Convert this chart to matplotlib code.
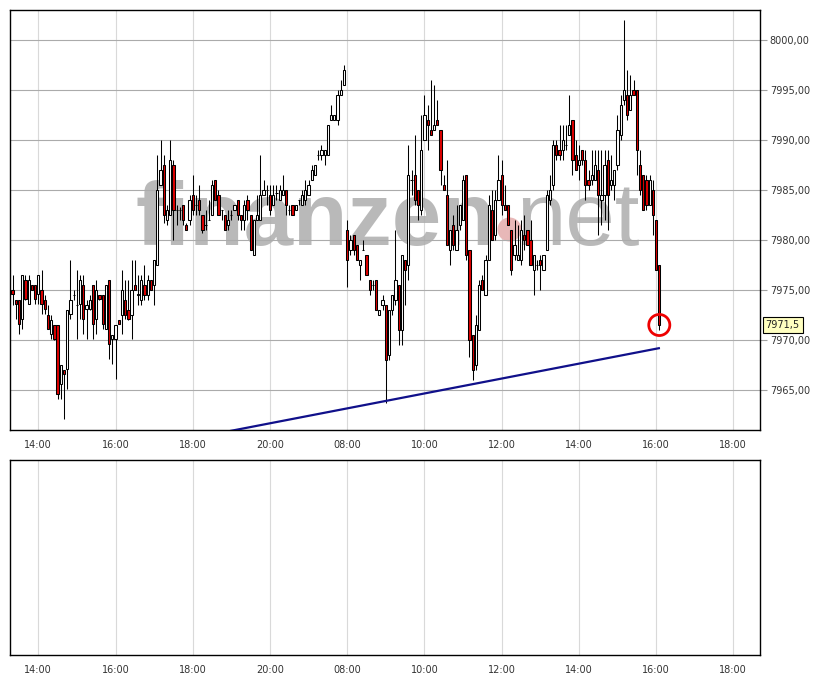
import numpy as np
import pandas as pd
import matplotlib
matplotlib.use("Agg")
import matplotlib.pyplot as plt
import matplotlib.transforms as mtransforms

# 5-minute bars; the night between the two sessions is collapsed (22:00 -> 08:00)
day1_start, day1_bars = "13:20", 104
day2_start, day2_bars = "08:00", 98

opens = [
    7975.0, 7974.0, 7974.0, 7972.1, 7976.0, 7973.6, 7975.5, 7975.5, 7974.6, 7975.0,
    7974.0, 7972.5, 7970.6, 7971.5, 7971.5, 7965.6, 7967.0, 7967.1, 7972.6, 7974.5,
    7973.5, 7973.6, 7975.5, 7973.1, 7973.1, 7975.5, 7972.1, 7974.5, 7974.5, 7971.1,
    7976.0, 7970.1, 7970.1, 7972.0, 7972.5, 7974.0, 7973.0, 7972.5, 7975.5, 7974.5,
    7974.0, 7975.5, 7974.5, 7976.0, 7975.5, 7977.5, 7985.5, 7987.5, 7982.0, 7982.5,
    7987.5, 7983.0, 7983.0, 7983.5, 7981.5, 7982.0, 7984.5, 7983.5, 7984.0, 7982.5,
    7981.5, 7982.0, 7982.5, 7986.0, 7984.5, 7983.0, 7982.5, 7981.5, 7982.5, 7983.0,
    7984.0, 7982.5, 7982.0, 7984.0, 7982.5, 7978.5, 7982.0, 7982.0, 7984.5, 7985.0,
    7984.5, 7983.5, 7984.7, 7984.0, 7984.5, 7985.0, 7983.0, 7983.5, 7983.0, 7984.0,
    7983.5, 7984.0, 7984.5, 7986.0, 7986.5, 7988.5, 7988.5, 7988.5, 7988.5, 7992.0,
    7992.0, 7992.0, 7994.5, 7995.5,
    7981.0, 7979.0, 7980.5, 7979.5, 7977.5, 7979.0, 7978.5, 7976.0, 7975.5, 7976.0,
    7972.5, 7973.5, 7973.5, 7968.5, 7973.0, 7974.0, 7975.5, 7971.0, 7978.0, 7977.5,
    7986.0, 7986.5, 7985.0, 7983.0, 7990.0, 7992.0, 7991.0, 7991.0, 7992.0, 7991.0,
    7985.5, 7984.5, 7979.0, 7981.5, 7979.0, 7981.5, 7982.0, 7986.5, 7979.0, 7970.5,
    7967.5, 7971.0, 7976.0, 7974.5, 7978.0, 7983.0, 7980.5, 7984.0, 7986.5, 7983.5,
    7983.5, 7981.0, 7978.5, 7978.0, 7978.0, 7980.5, 7981.0, 7980.0, 7977.0, 7977.5,
    7978.0, 7977.0, 7979.0, 7984.0, 7985.5, 7989.5, 7989.0, 7989.0, 7989.5, 7990.5,
    7992.0, 7988.5, 7987.5, 7989.0, 7988.0, 7986.0, 7986.0, 7986.0, 7987.0, 7984.0,
    7984.5, 7988.0, 7985.5, 7985.5, 7987.5, 7990.5, 7994.0, 7994.5, 7993.0, 7995.0,
    7995.0, 7987.5, 7986.5, 7986.0, 7983.5, 7985.0, 7982.0, 7977.5,
]
highs = [
    7976.5, 7974.0, 7974.0, 7976.5, 7976.5, 7976.5, 7975.5, 7975.5, 7976.5, 7977.0,
    7974.5, 7973.5, 7972.5, 7971.5, 7971.5, 7967.5, 7967.0, 7973.0, 7978.0, 7975.0,
    7977.0, 7976.5, 7976.5, 7974.0, 7974.5, 7975.5, 7976.0, 7974.5, 7974.5, 7975.5,
    7976.0, 7970.5, 7971.5, 7972.0, 7977.0, 7976.0, 7976.0, 7978.0, 7978.0, 7976.5,
    7976.5, 7977.5, 7976.5, 7976.0, 7978.0, 7988.5, 7990.0, 7988.5, 7983.5, 7990.0,
    7988.0, 7983.5, 7983.3, 7983.5, 7981.7, 7984.5, 7986.5, 7984.5, 7985.5, 7982.5,
    7983.0, 7984.0, 7986.0, 7986.0, 7985.0, 7983.0, 7982.5, 7983.0, 7983.0, 7983.5,
    7984.0, 7982.5, 7984.0, 7984.5, 7982.5, 7982.0, 7984.5, 7988.5, 7986.0, 7985.5,
    7985.5, 7985.5, 7985.5, 7985.5, 7986.5, 7985.0, 7983.5, 7983.5, 7983.5, 7984.0,
    7985.0, 7986.0, 7986.0, 7987.5, 7987.5, 7989.0, 7989.5, 7989.0, 7991.5, 7993.5,
    7992.5, 7995.0, 7996.0, 7997.5,
    7982.0, 7980.5, 7980.5, 7979.5, 7978.0, 7980.0, 7978.5, 7976.0, 7976.0, 7976.0,
    7973.0, 7974.5, 7973.5, 7973.0, 7974.5, 7981.0, 7975.5, 7978.5, 7978.0, 7989.5,
    7987.0, 7990.5, 7985.0, 7992.5, 7994.5, 7993.5, 7996.0, 7995.5, 7994.0, 7991.0,
    7986.5, 7988.0, 7981.0, 7982.5, 7983.5, 7983.5, 7986.5, 7986.5, 7979.0, 7970.5,
    7972.5, 7976.0, 7976.5, 7978.5, 7984.5, 7985.0, 7985.0, 7988.5, 7988.0, 7985.5,
    7983.5, 7981.0, 7982.0, 7981.5, 7982.0, 7982.5, 7981.0, 7982.0, 7978.5, 7978.0,
    7978.5, 7978.5, 7985.0, 7986.5, 7990.0, 7990.0, 7991.5, 7991.5, 7991.5, 7994.5,
    7992.0, 7990.0, 7989.5, 7989.0, 7989.0, 7987.0, 7989.0, 7989.0, 7989.0, 7989.0,
    7989.0, 7989.0, 7988.5, 7987.0, 7992.5, 7994.5, 8002.0, 7997.0, 7996.5, 7996.0,
    7995.0, 7989.0, 7986.5, 7986.5, 7986.5, 7986.0, 7982.0, 7977.5,
]
lows = [
    7973.5, 7972.1, 7970.6, 7971.1, 7974.0, 7973.6, 7975.0, 7973.6, 7973.6, 7972.6,
    7972.6, 7971.1, 7970.1, 7970.0, 7964.1, 7964.1, 7962.1, 7965.1, 7972.1, 7974.0,
    7970.1, 7972.1, 7970.6, 7970.1, 7973.0, 7970.1, 7970.6, 7974.0, 7971.1, 7971.1,
    7968.1, 7967.6, 7966.1, 7971.6, 7970.6, 7972.1, 7972.0, 7970.1, 7975.0, 7973.5,
    7973.5, 7974.0, 7974.0, 7975.0, 7973.5, 7977.5, 7985.5, 7981.7, 7981.5, 7982.5,
    7980.0, 7981.5, 7982.0, 7981.5, 7981.0, 7981.5, 7982.5, 7982.5, 7982.5, 7980.7,
    7981.0, 7982.0, 7982.5, 7984.0, 7982.5, 7982.0, 7981.0, 7981.0, 7982.0, 7983.0,
    7982.0, 7981.0, 7981.0, 7982.0, 7979.0, 7978.5, 7982.0, 7982.0, 7984.5, 7983.5,
    7982.5, 7983.5, 7984.0, 7984.0, 7984.5, 7982.5, 7982.5, 7982.5, 7983.0, 7983.5,
    7983.5, 7983.5, 7984.5, 7986.0, 7986.5, 7988.0, 7988.0, 7987.5, 7988.5, 7992.0,
    7992.0, 7991.5, 7994.5, 7995.5,
    7975.3, 7978.5, 7978.5, 7978.0, 7976.0, 7979.0, 7976.5, 7974.5, 7975.0, 7973.0,
    7972.5, 7973.0, 7963.7, 7968.0, 7972.5, 7973.5, 7969.5, 7969.5, 7973.5, 7976.0,
    7984.5, 7983.5, 7982.0, 7982.5, 7990.0, 7989.0, 7990.5, 7991.0, 7991.5, 7985.5,
    7985.0, 7979.5, 7977.5, 7979.0, 7979.0, 7981.0, 7982.0, 7978.0, 7968.3, 7966.0,
    7967.0, 7971.0, 7975.0, 7974.5, 7978.0, 7980.0, 7980.0, 7984.0, 7982.5, 7983.0,
    7981.5, 7976.5, 7978.0, 7978.0, 7977.5, 7979.0, 7979.5, 7977.5, 7974.5, 7977.0,
    7975.0, 7977.0, 7979.0, 7983.5, 7985.0, 7988.0, 7988.0, 7988.0, 7989.0, 7990.5,
    7986.5, 7987.0, 7986.0, 7987.5, 7984.0, 7985.0, 7985.5, 7986.0, 7980.5, 7981.5,
    7982.0, 7981.0, 7985.0, 7984.0, 7987.0, 7990.0, 7993.5, 7992.0, 7993.0, 7994.5,
    7986.5, 7984.5, 7983.0, 7983.0, 7983.5, 7980.5, 7977.0, 7971.0,
]
closes = [
    7974.6, 7973.6, 7971.6, 7976.5, 7974.1, 7976.0, 7975.0, 7974.1, 7976.5, 7973.6,
    7973.1, 7971.1, 7972.0, 7970.1, 7964.6, 7967.5, 7966.6, 7973.0, 7974.0, 7974.5,
    7973.5, 7976.0, 7972.1, 7973.5, 7974.0, 7971.6, 7975.0, 7974.1, 7971.6, 7975.5,
    7969.6, 7970.5, 7971.5, 7971.6, 7975.0, 7972.5, 7972.1, 7975.0, 7975.0, 7974.6,
    7976.0, 7974.5, 7976.0, 7975.0, 7978.0, 7985.0, 7987.0, 7982.5, 7983.0, 7988.0,
    7983.0, 7983.0, 7983.0, 7982.0, 7981.0, 7984.0, 7983.0, 7983.5, 7983.0, 7981.0,
    7981.5, 7982.0, 7985.5, 7984.0, 7982.5, 7983.0, 7981.0, 7982.0, 7982.5, 7983.5,
    7982.5, 7982.0, 7983.5, 7983.0, 7979.0, 7982.0, 7982.5, 7984.5, 7985.0, 7985.0,
    7983.0, 7984.5, 7984.7, 7985.0, 7985.0, 7983.5, 7983.0, 7982.5, 7983.5, 7984.0,
    7984.5, 7985.0, 7985.5, 7987.0, 7987.5, 7988.5, 7989.0, 7989.0, 7991.5, 7992.5,
    7992.5, 7994.5, 7995.0, 7997.0,
    7978.0, 7980.0, 7979.0, 7978.0, 7978.0, 7979.0, 7976.5, 7975.0, 7975.5, 7973.0,
    7973.0, 7974.0, 7968.0, 7973.0, 7974.5, 7976.0, 7971.0, 7978.5, 7977.0, 7986.5,
    7986.0, 7984.0, 7983.5, 7989.0, 7992.5, 7991.5, 7990.5, 7991.5, 7991.5, 7987.0,
    7985.0, 7979.5, 7981.0, 7979.5, 7981.0, 7983.5, 7986.0, 7978.5, 7970.0, 7967.0,
    7971.5, 7975.5, 7975.0, 7978.0, 7983.5, 7980.0, 7984.0, 7986.0, 7983.5, 7983.0,
    7981.5, 7977.0, 7979.5, 7978.5, 7981.0, 7980.0, 7979.5, 7977.5, 7978.5, 7977.5,
    7977.5, 7978.5, 7984.5, 7985.0, 7989.5, 7988.5, 7988.5, 7990.0, 7989.5, 7991.5,
    7988.0, 7987.0, 7988.0, 7988.0, 7985.5, 7985.5, 7986.5, 7987.5, 7984.5, 7984.5,
    7987.5, 7984.5, 7986.0, 7987.0, 7991.0, 7993.5, 7995.0, 7992.5, 7994.5, 7994.5,
    7989.0, 7985.0, 7983.0, 7983.5, 7986.0, 7982.5, 7977.0, 7971.5,
]

tick_labels = ["14:00", "16:00", "18:00", "20:00", "08:00",
               "10:00", "12:00", "14:00", "16:00", "18:00"]
tick_days = [1, 1, 1, 1, 2, 2, 2, 2, 2, 2]
price_ticks = [7965, 7970, 7975, 7980, 7985, 7990, 7995, 8000]
last_price = 7971.5
trend_days = [1, 2]
trend_times = ["18:58", "16:06"]
trend_prices = [7960.9, 7969.2]


def session_pos(day, hhmm):
    # minutes from 14:00 on day 1, with the overnight gap removed
    h, m = map(int, hhmm.split(":"))
    mins = h * 60 + m
    if day == 1:
        return mins - 14 * 60
    return 8 * 60 + 480 + mins - 16 * 60


t1 = pd.date_range("2000-01-01 " + day1_start, periods=day1_bars, freq="5min")
t2 = pd.date_range("2000-01-02 " + day2_start, periods=day2_bars, freq="5min")
xs = np.array([session_pos(1, t.strftime("%H:%M")) for t in t1] +
              [session_pos(2, t.strftime("%H:%M")) for t in t2], dtype=float)
o = np.array(opens)
h = np.array(highs)
l = np.array(lows)
c = np.array(closes)

fig = plt.figure(figsize=(8.2, 6.75), dpi=100)
ax = fig.add_axes([10 / 820, 1 - 430 / 675, 750 / 820, 420 / 675])
ax2 = fig.add_axes([10 / 820, 1 - 655 / 675, 750 / 820, 195 / 675])

xmin, xmax = -44, 1121.5
tick_pos = [session_pos(d, t) for d, t in zip(tick_days, tick_labels)]

for a in (ax, ax2):
    a.set_xlim(xmin, xmax)
    a.set_xticks(tick_pos)
    a.set_xticklabels(tick_labels)
    a.tick_params(axis="x", length=0, pad=7, labelsize=7, labelcolor="#333333")
    for x in tick_pos:
        a.axvline(x, color="#d9d9d9", lw=0.8, zorder=0)
    for s in a.spines.values():
        s.set_color("black")
        s.set_linewidth(1.0)

ax2.set_yticks([])
ax2.set_ylim(0, 1)

ax.set_ylim(7961, 8003)
ax.yaxis.tick_right()
ax.set_yticks(price_ticks)
ax.set_yticklabels([f"{v:.2f}".replace(".", ",") for v in price_ticks])
ax.tick_params(axis="y", length=5, width=0.8, color="#a0a0a0", pad=2,
               labelsize=7, labelcolor="#333333")
for v in price_ticks:
    ax.axhline(v, color="#ababab", lw=0.8, zorder=0.5)

# watermark
ax.text(0.1667, 0.4405, "finanzen", transform=ax.transAxes, family="Liberation Sans",
        fontweight="bold", fontsize=64, color="#adadad", alpha=0.85, va="baseline",
        ha="left", zorder=0.2)
ax.text(0.675, 0.4405, "net", transform=ax.transAxes, family="Liberation Sans",
        fontsize=64, color="#adadad", alpha=0.85, va="baseline", ha="left", zorder=0.2)
ax.scatter([0.6653], [0.478], s=300, color="#e8b8b8", transform=ax.transAxes,
           zorder=0.3, linewidths=0)

# candles
ax.vlines(xs, l, h, color="black", lw=0.75, zorder=2)
down = c < o
fill = np.where(down, "#dd0000", "white")
bottom = np.minimum(o, c)
height = np.abs(c - o)
ax.bar(xs, height, bottom=bottom, width=3.5, color=fill, edgecolor="black",
       linewidth=0.75, zorder=3)

# trend line
tx = [session_pos(d, t) for d, t in zip(trend_days, trend_times)]
ax.plot(tx, trend_prices, color="#10108a", lw=1.6, zorder=4, solid_capstyle="butt")

# last price marker
ax.scatter([xs[-1]], [last_price], s=230, facecolors="none", edgecolors="#ee0000",
           linewidths=2.0, zorder=5)
ax.annotate(f"{last_price:.1f}".replace(".", ","), xy=(1.0, last_price),
            xycoords=mtransforms.blended_transform_factory(ax.transAxes, ax.transData),
            xytext=(4, 0), textcoords="offset points", va="center", ha="left",
            fontsize=7, color="#222222",
            bbox=dict(boxstyle="square,pad=0.3", fc="#ffffc0", ec="black", lw=0.8),
            annotation_clip=False)

fig.savefig("out.png", dpi=100)
